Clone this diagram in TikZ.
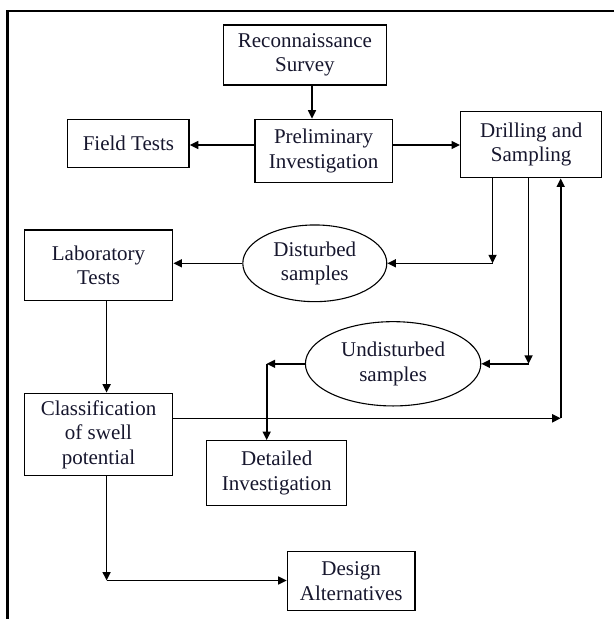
\documentclass[tikz,border=0pt]{standalone}
\usepackage{fontspec}
\setmainfont{Liberation Serif}
\usetikzlibrary{arrows.meta,shapes.geometric}
\definecolor{txt}{RGB}{22,22,45}
\tikzset{
  box/.style={draw, line width=1.4pt, rectangle, align=center, inner sep=0pt, text=txt,
    font=\fontsize{21}{24.5}\selectfont},
  oval/.style={draw, line width=1.1pt, ellipse, align=center, inner sep=0pt, text=txt,
    font=\fontsize{21}{24.5}\selectfont},
  arr/.style={line width=1.6pt, -{Triangle[length=8.5pt,width=8pt]}},
  frame/.style={line width=2.4pt}
}
\begin{document}
\begin{tikzpicture}[x=1pt,y=-1pt]
\useasboundingbox (0,0) rectangle (614,619);
\draw[frame] (614,10.7) -- (7.5,10.7) -- (7.5,619);

\node[box, minimum width=163pt, minimum height=60pt] (recon) at (304.9,55) {Reconnaissance\\Survey};
\node[box, minimum width=121.4pt, minimum height=48pt] (field) at (128.4,143.3) {Field Tests};
\node[box, minimum width=137.4pt, minimum height=63pt] (prelim) at (323.6,150.8) {Preliminary\\Investigation};
\node[box, minimum width=141pt, minimum height=66pt] (drill) at (531.2,144.7) {Drilling and\\Sampling};
\node[box, minimum width=148.4pt, minimum height=70.7pt] (lab) at (98.5,265.3) {Laboratory\\Tests};
\node[oval, minimum width=144pt, minimum height=76.7pt] (dist) at (314.8,263.3) {Disturbed\\samples};
\node[oval, minimum width=175.4pt, minimum height=84.3pt] (undist) at (393.1,363.8) {Undisturbed\\samples};
\node[box, minimum width=148.4pt, minimum height=82.4pt] (class) at (98.5,434.5) {Classification\\of swell\\potential};
\node[box, minimum width=140pt, minimum height=65pt] (detail) at (276.7,473.2) {Detailed\\Investigation};
\node[box, minimum width=127.7pt, minimum height=58.6pt] (design) at (351.2,581) {Design\\Alternatives};

% guide coordinates
\coordinate (kR) at (312,0);
\coordinate (kP) at (0,145);
\coordinate (kL) at (106.6,0);
\coordinate (cD) at (492.6,263.3);
\coordinate (cU) at (528.6,363.8);
\coordinate (cW) at (266.7,363.8);
\coordinate (cC) at (560.7,418.3);
\coordinate (cB) at (106.6,580.5);

\draw[arr] (recon.south -| kR) -- (prelim.north -| kR);
\draw[arr] (prelim.west |- kP) -- (field.east |- kP);
\draw[arr] (prelim.east |- kP) -- (drill.west |- kP);

\draw[arr] (drill.south -| cD) -- (cD);
\draw[arr] (cD) -- (dist.east);
\draw[arr] (dist.west) -- (dist.west -| lab.east);

\draw[arr] (lab.south -| kL) -- (class.north -| kL);

\draw[arr] (drill.south -| cU) -- (cU);
\draw[arr] (cU) -- (undist.east);
\draw[arr] (undist.west) -- (cW);
\draw[arr] (cW) -- (detail.north -| cW);

\draw[arr] (class.east |- cC) -- (cC);
\draw[arr] (cC) -- (drill.south -| cC);

\draw[arr] (class.south -| cB) -- (cB);
\draw[arr] (cB) -- (design.west |- cB);
\end{tikzpicture}
\end{document}
